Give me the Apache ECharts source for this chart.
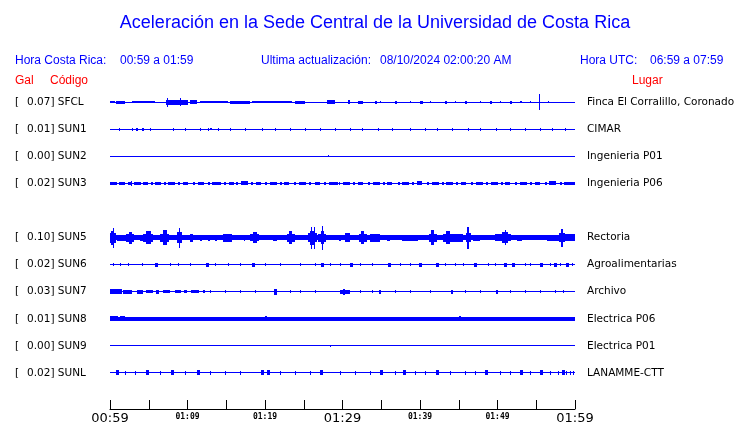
<!DOCTYPE html>
<html>
<head>
<meta charset="utf-8">
<script src="https://cdn.jsdelivr.net/npm/echarts@6/dist/echarts.min.js"></script>
<style>html,body{margin:0;padding:0;background:#fff}#c{width:740px;height:423px}</style>
</head>
<body>
<div id="c"></div>
<script>
// ---- DATA ----
const codes = ['SFCL','SUN1','SUN2','SUN3','SUN5','SUN6','SUN7','SUN8','SUN9','SUNL'];
const galValues = ['0.07','0.01','0.00','0.02','0.10','0.02','0.03','0.01','0.00','0.02'];
const places = ['Finca El Corralillo, Coronado','CIMAR','Ingenieria P01','Ingenieria P06','Rectoria','Agroalimentarias','Archivo','Electrica P06','Electrica P01','LANAMME-CTT'];
const slots = [0,1,2,3,5,6,7,8,9,10];
const xTickLabels = ['00:59','01:09','01:19','01:29','01:39','01:49','01:59'];
// features per station: [startMinute, endMinute, halfAmplitude] (minutes since 00:59)
const sfcl = [[0,60,0.02],[0,0.7,0.045],[0.8,1.9,0.05],[2.8,5.8,0.045],[7.2,10.1,0.09],[7.3,7.4,0.17],[9.0,9.1,0.15],[10.3,11.2,0.065],[11.6,15.2,0.045],[15.5,18.1,0.05],[18.3,23.5,0.045],[23.9,25.2,0.05],[28.0,29.0,0.065],[30.7,30.9,0.065],[32.0,32.6,0.05],[34.2,34.4,0.05],[34.8,34.9,0.045],[36.8,37.0,0.05],[38.7,38.8,0.045],[40.0,40.4,0.05],[41.3,41.4,0.045],[43.2,43.4,0.05],[44.5,44.6,0.045],[45.8,46.1,0.05],[47.7,47.8,0.045],[49.0,49.3,0.05],[50.3,50.4,0.045],[51.6,51.8,0.05],[52.9,53.1,0.045],[54.2,54.3,0.045],[55.4,55.5,0.3],[56.5,56.6,0.045]];
const sun1 = [[0,60,0.02],[1.16,1.16,0.06],[2.84,2.84,0.06],[3.3,3.6,0.05],[4.1,4.4,0.05],[5.16,5.16,0.06],[8.13,8.13,0.06],[9.68,9.68,0.06],[11.61,11.61,0.06],[12.65,12.65,0.06],[12.9,13.2,0.045],[13.94,13.94,0.06],[15.48,15.48,0.06],[17.42,17.42,0.06],[19.61,19.61,0.06],[21.29,21.29,0.06],[23.23,23.23,0.06],[25.16,25.16,0.06],[27.1,27.1,0.06],[29.03,29.03,0.06],[30.97,30.97,0.06],[32.52,32.52,0.06],[34.58,34.58,0.06],[36.39,36.39,0.06],[38.71,38.71,0.06],[40.65,40.65,0.06],[42.19,42.19,0.06],[44.13,44.13,0.06],[46.19,46.19,0.06],[47.74,47.74,0.06],[49.81,49.81,0.06],[51.61,51.61,0.06],[53.55,53.55,0.06],[55.48,55.48,0.06],[57.03,57.03,0.06],[58.71,58.71,0.06]];
const sun2 = [[0,60,0.02],[28.1,28.1,0.04]];
const sun3 = [[0,60,0.02],[0,0.9,0.055],[1.2,2.0,0.05],[2.3,2.7,0.055],[2.7,2.85,0.1],[3.1,4.0,0.055],[4.3,4.9,0.05],[5.3,5.5,0.055],[5.8,6.6,0.05],[7.0,7.2,0.055],[7.5,8.4,0.055],[8.8,9.0,0.05],[9.4,10.1,0.055],[10.7,11.0,0.05],[11.4,12.2,0.055],[12.6,12.8,0.05],[13.2,14.3,0.055],[14.7,14.9,0.05],[15.3,15.9,0.055],[16.3,16.5,0.05],[16.9,17.8,0.065],[18.2,18.4,0.05],[18.8,19.4,0.055],[20.0,20.2,0.05],[20.6,21.5,0.055],[21.9,22.1,0.05],[22.5,23.2,0.055],[23.8,24.0,0.05],[24.4,25.3,0.055],[25.7,25.9,0.05],[26.5,27.2,0.055],[27.6,27.8,0.05],[28.2,29.3,0.055],[29.6,29.7,0.05],[30.1,31.0,0.055],[31.4,31.6,0.05],[32.0,32.7,0.055],[33.3,33.5,0.05],[33.9,34.8,0.055],[35.2,35.4,0.05],[35.8,36.5,0.055],[37.1,37.3,0.05],[37.7,38.6,0.055],[39.0,39.2,0.05],[39.6,40.3,0.075],[40.9,41.1,0.05],[41.5,42.4,0.055],[42.8,43.0,0.05],[43.4,44.3,0.055],[44.7,44.9,0.05],[45.3,46.0,0.055],[46.6,46.8,0.05],[47.2,48.1,0.055],[48.5,48.7,0.05],[49.1,50.0,0.055],[50.4,50.6,0.05],[51.0,51.7,0.055],[52.3,52.5,0.05],[52.9,53.8,0.055],[54.2,54.4,0.05],[54.8,55.5,0.055],[56.1,56.3,0.05],[56.7,57.6,0.065],[58.0,58.2,0.05],[58.6,60,0.055]];
const sun5 = [[0,60,0.09],[58.1,60,0.13],[0,0.8,0.18],[0.1,0.5,0.26],[0.4,0.5,0.37],[0.9,2.3,0.11],[2.1,3.1,0.14],[2.4,2.8,0.22],[3.9,4.3,0.11],[4.3,5.6,0.14],[4.6,5.2,0.24],[6.5,7.6,0.15],[6.8,7.3,0.28],[8.6,9.2,0.2],[8.9,9.0,0.37],[10.3,10.7,0.15],[11.6,11.9,0.11],[12.6,12.9,0.11],[13.5,13.8,0.11],[14.6,15.7,0.15],[17.3,17.4,0.11],[18.1,19.2,0.13],[18.4,18.9,0.2],[21.0,21.5,0.11],[22.8,23.8,0.14],[23.1,23.5,0.24],[25.6,26.7,0.16],[25.8,26.5,0.26],[25.9,26.0,0.41],[26.3,26.4,0.41],[26.9,27.9,0.15],[27.2,27.6,0.24],[27.3,27.4,0.44],[29.6,29.8,0.11],[30.3,31.0,0.17],[32.1,33.1,0.14],[32.4,32.8,0.24],[33.5,34.8,0.14],[35.7,36.1,0.11],[37.7,39.7,0.11],[41.1,42.1,0.15],[41.4,41.8,0.28],[43.0,44.1,0.14],[43.3,43.8,0.24],[44.1,45.5,0.14],[45.9,46.6,0.16],[46.1,46.4,0.41],[46.8,47.7,0.11],[49.7,51.8,0.13],[50.6,51.4,0.2],[51.0,51.1,0.28],[52.5,53.2,0.11],[56.4,58.1,0.11],[57.9,58.7,0.16],[58.2,58.4,0.33]];
const sun6 = [[0,60,0.02],[5.77,6.11,0.08],[12.33,12.67,0.08],[18.28,18.62,0.08],[27.18,27.52,0.08],[30.93,31.27,0.08],[35.93,36.27,0.08],[39.83,40.17,0.08],[42.03,42.37,0.08],[46.93,47.27,0.08],[50.83,51.17,0.08],[51.83,52.17,0.08],[55.43,55.77,0.08],[57.23,57.57,0.08],[58.8,59.14,0.08],[0.39,0.39,0.06],[1.29,1.29,0.06],[2.32,2.32,0.06],[4.13,4.13,0.06],[7.74,7.74,0.06],[8.77,8.77,0.06],[10.32,10.32,0.06],[13.55,13.55,0.06],[15.23,15.23,0.06],[16.77,16.77,0.06],[20.0,20.0,0.06],[21.94,21.94,0.06],[24.52,24.52,0.06],[26.45,26.45,0.06],[28.39,28.39,0.06],[29.68,29.68,0.06],[32.26,32.26,0.06],[33.81,33.81,0.06],[37.42,37.42,0.06],[38.71,38.71,0.06],[43.23,43.23,0.06],[44.52,44.52,0.06],[45.55,45.55,0.06],[48.77,48.77,0.06],[49.68,49.68,0.06],[53.55,53.55,0.06],[54.19,54.19,0.06],[56.77,56.77,0.06],[58.06,58.06,0.06],[59.61,59.61,0.06]];
const sun7 = [[0,60,0.02],[0,1.55,0.09],[1.7,2.8,0.065],[3.5,4.3,0.08],[4.6,5.5,0.055],[5.9,6.3,0.08],[6.9,7.8,0.055],[8.4,9.2,0.06],[9.6,10.0,0.05],[10.5,11.5,0.055],[12.0,12.2,0.05],[12.9,12.9,0.06],[14.84,14.84,0.06],[16.77,16.77,0.06],[18.71,18.71,0.06],[21.1,21.5,0.11],[23.23,23.23,0.06],[24.52,24.52,0.06],[26.45,26.45,0.06],[29.7,31.0,0.08],[30.0,30.3,0.11],[32.26,32.26,0.06],[33.81,33.81,0.06],[34.7,35.0,0.065],[36.77,36.77,0.06],[38.71,38.71,0.06],[41.29,41.29,0.06],[44.0,44.3,0.065],[45.81,45.81,0.06],[47.74,47.74,0.06],[49.8,50.1,0.065],[51.61,51.61,0.06],[53.55,53.55,0.06],[55.48,55.48,0.06],[57.42,57.42,0.06],[58.45,58.45,0.06]];
const sun8 = [[0,60,0.075],[0,1.0,0.1],[1.3,1.9,0.09],[20.0,20.3,0.09],[45.0,45.3,0.09]];
const sun9 = [[0,60,0.02],[28.4,28.4,0.04]];
const sunl = [[0,60,0.02],[0.73,1.07,0.1],[4.6,4.94,0.1],[7.83,8.17,0.1],[11.18,11.52,0.1],[19.44,19.78,0.1],[20.22,20.56,0.1],[27.06,27.4,0.1],[34.8,35.14,0.1],[37.77,38.11,0.1],[42.02,42.36,0.1],[48.35,48.69,0.1],[52.86,53.2,0.1],[55.44,55.78,0.1],[58.28,58.62,0.1],[1.94,1.94,0.07],[3.23,3.23,0.07],[6.45,6.45,0.07],[9.68,9.68,0.07],[12.9,12.9,0.07],[14.84,14.84,0.07],[16.77,16.77,0.07],[21.94,21.94,0.07],[23.87,23.87,0.07],[25.81,25.81,0.07],[29.68,29.68,0.07],[31.61,31.61,0.07],[33.55,33.55,0.07],[36.77,36.77,0.07],[39.35,39.35,0.07],[40.65,40.65,0.07],[43.87,43.87,0.07],[45.81,45.81,0.07],[47.1,47.1,0.07],[50.32,50.32,0.07],[51.61,51.61,0.07],[54.19,54.19,0.07],[56.77,56.77,0.07],[57.81,57.81,0.07],[58.84,58.84,0.07],[59.35,59.35,0.07],[59.74,59.74,0.07]];
const stationFeatures = [sfcl, sun1, sun2, sun3, sun5, sun6, sun7, sun8, sun9, sunl];

// ---- CHART ----
const BLUE = '#0000ff', RED = '#ff0000';
const traceData = [];
stationFeatures.forEach((f, i) => f.forEach(d => traceData.push([d[0], d[1], slots[i], d[2]])));

function labelFor(v, fn) {
  const i = slots.indexOf(v);
  return i < 0 ? '' : fn(i);
}

const chart = echarts.init(document.getElementById('c'), null, {renderer: 'canvas'});
chart.setOption({
  animation: false,
  grid: {left: 110, right: 165, top: 75, bottom: 14, containLabel: false, outerBoundsMode: 'none'},
  xAxis: {
    type: 'value', min: 0, max: 60, interval: 5, position: 'bottom',
    axisLine: {show: true, onZero: false, lineStyle: {color: '#000', width: 1}},
    axisTick: {show: true, inside: true, length: 9, lineStyle: {color: '#000'}},
    splitLine: {show: false},
    axisLabel: {
      margin: 3, showMinLabel: true, showMaxLabel: true,
      formatter: function (v) {
        if (v % 10 !== 0) return '';
        const k = v / 10;
        const t = xTickLabels[k];
        return (k % 3 === 0) ? '{big|' + t + '}' : '{small|' + t + '}';
      },
      rich: {
        big: {fontFamily: 'DejaVu Sans', fontSize: 13, color: '#000'},
        small: {fontFamily: 'DejaVu Sans Mono', fontWeight: 'bold', fontSize: 8, color: '#000', padding: [1, 0, 0, 0]}
      }
    }
  },
  yAxis: [{
    type: 'value', min: -1, max: 11.33, interval: 1, inverse: true, position: 'left',
    axisLine: {show: false}, axisTick: {show: false}, splitLine: {show: false},
    axisLabel: {
      align: 'left', margin: 95, showMinLabel: false, showMaxLabel: false,
      formatter: v => labelFor(v, i => '{b|[}{t|' + galValues[i] + '] ' + codes[i] + '}'),
      rich: {
        b: {width: 12, fontFamily: 'DejaVu Sans', fontSize: 10.5, color: '#000'},
        t: {fontFamily: 'DejaVu Sans', fontSize: 10.5, color: '#000'}
      }
    }
  }, {
    type: 'value', min: -1, max: 11.33, interval: 1, inverse: true, position: 'right',
    axisLine: {show: false}, axisTick: {show: false}, splitLine: {show: false},
    axisLabel: {
      margin: 12, showMinLabel: false, showMaxLabel: false,
      fontFamily: 'DejaVu Sans', fontSize: 10.5, color: '#000',
      formatter: v => labelFor(v, i => places[i])
    }
  }],
  series: [{
    type: 'custom',
    xAxisIndex: 0, yAxisIndex: 0,
    encode: {x: [0, 1], y: 2},
    clip: false,
    data: traceData,
    renderItem: function (params, api) {
      const t0 = api.value(0), t1 = api.value(1), s = api.value(2), a = api.value(3);
      const p0 = api.coord([t0, s - a]);
      const p1 = api.coord([t1, s + a]);
      const pc = api.coord([t0, s]);
      let x = Math.round(Math.min(p0[0], p1[0]));
      let w = Math.max(1, Math.round(Math.abs(p1[0] - p0[0])));
      let h = Math.max(1, Math.round(Math.abs(p1[1] - p0[1])));
      let y = Math.round(pc[1] - h / 2);
      return {type: 'rect', shape: {x: x, y: y, width: w, height: h}, style: {fill: BLUE}};
    }
  }],
  graphic: [
    {type: 'text', x: 375, y: 14, style: {text: 'Aceleración en la Sede Central de la Universidad de Costa Rica', textAlign: 'center', fontFamily: 'Liberation Sans', fontSize: 18, fill: BLUE}},
    {type: 'text', x: 15, y: 55, style: {text: 'Hora Costa Rica:', fontFamily: 'Liberation Sans', fontSize: 12, fill: BLUE}},
    {type: 'text', x: 120, y: 55, style: {text: '00:59 a 01:59', fontFamily: 'Liberation Sans', fontSize: 12, fill: BLUE}},
    {type: 'text', x: 261, y: 55, style: {text: 'Ultima actualización:', fontFamily: 'Liberation Sans', fontSize: 12, fill: BLUE}},
    {type: 'text', x: 380, y: 55, style: {text: '08/10/2024 02:00:20 AM', fontFamily: 'Liberation Sans', fontSize: 12, fill: BLUE}},
    {type: 'text', x: 580, y: 55, style: {text: 'Hora UTC:', fontFamily: 'Liberation Sans', fontSize: 12, fill: BLUE}},
    {type: 'text', x: 650, y: 55, style: {text: '06:59 a 07:59', fontFamily: 'Liberation Sans', fontSize: 12, fill: BLUE}},
    {type: 'text', x: 15, y: 75, style: {text: 'Gal', fontFamily: 'Liberation Sans', fontSize: 12, fill: RED}},
    {type: 'text', x: 50, y: 75, style: {text: 'Código', fontFamily: 'Liberation Sans', fontSize: 12, fill: RED}},
    {type: 'text', x: 632, y: 75, style: {text: 'Lugar', fontFamily: 'Liberation Sans', fontSize: 12, fill: RED}}
  ]
});
</script>
</body>
</html>
